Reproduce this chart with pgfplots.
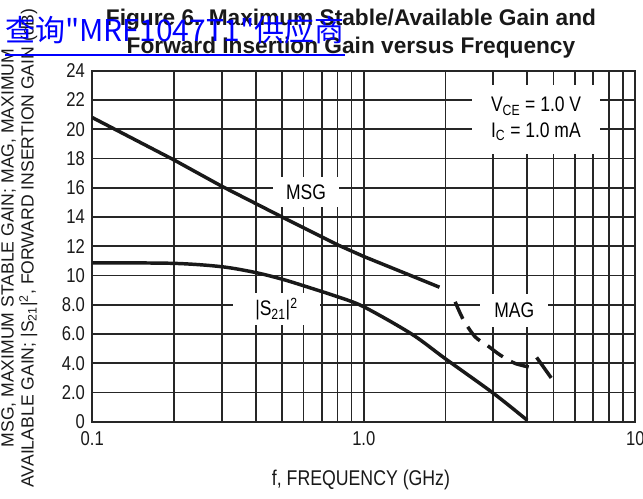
\documentclass[border=0pt]{standalone}
\usepackage{fontspec}
\setmainfont{Liberation Sans}[FakeStretch=0.83]
\newfontfamily\titlefont{Liberation Sans}
\newfontfamily\ylfont{Liberation Sans}
\newfontfamily\cjk{Noto Sans CJK SC}
\usepackage{pgfplots}
\pgfplotsset{compat=1.18}
\newcommand{\lbl}{\fontsize{15}{17}\selectfont}
\newcommand{\inl}{\fontsize{15.8}{19}\selectfont}
\begin{document}
\begin{tikzpicture}
\begin{axis}[
  at={(0,0)}, anchor=south west,
  xmode=log, scale only axis, width=407.25pt, height=263.25pt,
  xmin=0.1, xmax=10, ymin=0, ymax=24,
  xtick={0.1,1,10},
  xticklabels={0.1,1.0,10},
  minor xtick={0.2,0.3,0.4,0.5,0.6,0.7,0.8,0.9,2,3,4,5,6,7,8,9},
  ytick={0,2,4,6,8,10,12,14,16,18,20,22,24},
  yticklabels={0,2.0,4.0,6.0,8.0,10,12,14,16,18,20,22,24},
  xmajorgrids, ymajorgrids, xminorgrids,
  major grid style={black!85, line width=1.3pt},
  minor grid style={black!85, line width=1.3pt},
  axis line style={black!85, line width=1.3pt},
  major tick length=0pt, minor tick length=0pt,
  /pgf/number format/assume math mode=true,
  tick label style={font=\lbl, black!90},
  xticklabel style={yshift=-4pt},
  yticklabel style={xshift=-2pt},
  clip=false,
]
\addplot[black!90, line width=2.6pt] coordinates {
 (0.1,20.8) (0.2,17.9) (0.3,16.1) (0.5,14.0) (0.8,12.1) (1.0,11.3) (1.4,10.2) (1.9,9.2)};
\addplot[black!90, line width=2.6pt, smooth] coordinates {
 (0.1,10.87) (0.2,10.83) (0.3,10.6) (0.4,10.2) (0.5,9.75) (0.6,9.3) (0.8,8.55) (1.0,7.86) (1.5,6.0) (2.0,4.3) (3.0,1.95) (4.0,0.1)};
\addplot[black!90, line width=2.6pt, smooth, dash pattern=on 14pt off 7pt] coordinates {
 (2.17,8.2) (2.33,6.95) (2.57,5.81) (2.84,5.24) (3.18,4.56) (3.61,3.99) (4.27,3.65)};
\addplot[black!90, line width=2.6pt] coordinates {(4.33,4.4) (4.9,3.0)};
\node[fill=white, minimum width=50pt, minimum height=22pt, inner sep=0pt, font=\inl] at (axis cs:0.613,15.7) {MSG};
\node[fill=white, minimum width=65pt, minimum height=24pt, inner sep=0pt, font=\inl] at (axis cs:0.477,7.7) {|S\textsubscript{21}|\textsuperscript{2}};
\node[fill=white, minimum width=51pt, minimum height=25pt, inner sep=0pt, font=\inl] at (axis cs:3.58,7.63) {MAG};
\node[fill=white, minimum width=96pt, minimum height=52pt, inner sep=0pt, font=\inl, align=left, yshift=-3pt] at (axis cs:4.31,20.96) {V\textsubscript{CE} = 1.0 V\\I\textsubscript{C} = 1.0 mA};
\end{axis}
% y label
\node[rotate=90, anchor=base, font=\ylfont\fontsize{13.2}{16}\selectfont, black!90] at (-59pt,130.3pt) {MSG, MAXIMUM STABLE GAIN; MAG, MAXIMUM};
\node[rotate=90, anchor=base, font=\ylfont\fontsize{13.2}{16}\selectfont, black!90] at (-44pt,130.3pt) {AVAILABLE GAIN; |S\textsubscript{21}|\textsuperscript{2}, FORWARD INSERTION GAIN (dB)};
% x label
\node[anchor=base, font=\fontsize{16}{18}\selectfont, black!90] at (201.5pt,-47.5pt) {f, FREQUENCY (GHz)};
% title
\node[anchor=base, font=\titlefont\bfseries\fontsize{17}{19}\selectfont, black!90] at (194pt,297.5pt) {Figure 6. Maximum Stable/Available Gain and};
\node[anchor=base, font=\titlefont\bfseries\fontsize{17}{19}\selectfont, black!90] at (194pt,276.5pt) {Forward Insertion Gain versus Frequency};
% blue link
\node[anchor=base west, inner sep=0pt, font=\cjk\fontsize{22.5}{24}\selectfont, text=blue] (lnk) at (-65.5pt,284.8pt) {查询"MRF1047T1"供应商};
\draw[blue, line width=1.1pt] (-65.5pt,275pt) -- (lnk.east |- 0,275pt);
\pgfresetboundingbox
\path[use as bounding box] (-69.2pt,-57.2pt) rectangle (413pt,316.3pt);
\end{tikzpicture}
\end{document}
